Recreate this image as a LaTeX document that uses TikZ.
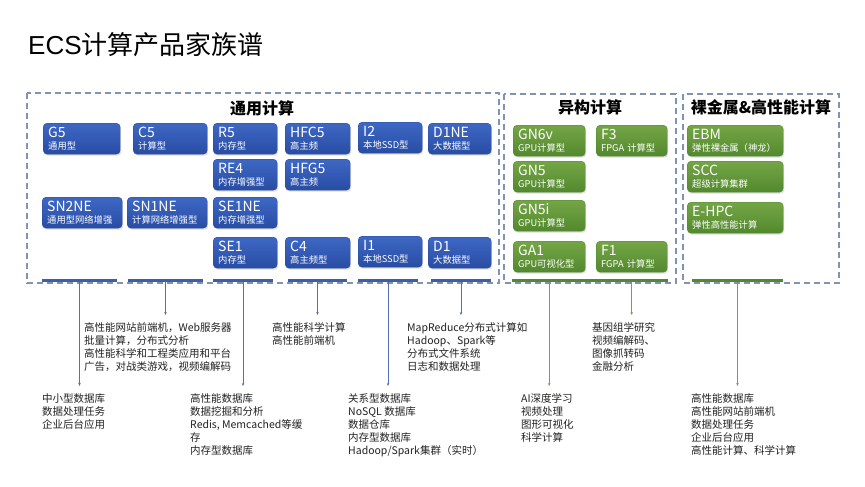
\documentclass[tikz,border=0pt]{standalone}
\usepackage{fontspec}
\setmainfont{Noto Sans CJK SC}
\newfontfamily\latinfont{Liberation Sans}
\usetikzlibrary{shadows,arrows.meta}

\definecolor{ecsblue}{RGB}{62,104,196}
\definecolor{ecsbluedark}{RGB}{40,76,164}
\definecolor{ecsgreen}{RGB}{116,166,70}
\definecolor{ecsgreendark}{RGB}{82,136,46}
\definecolor{framegray}{RGB}{128,148,178}
\definecolor{usegray}{RGB}{34,34,34}

\begin{document}
\begin{tikzpicture}[x=1pt,y=-1pt,
    famframe/.style={draw=framegray,line width=1.1pt,dash pattern=on 6pt off 4pt},
    famtitle/.style={font=\fontsize{16}{16}\selectfont\bfseries},
    ecsbox/.style={rounded corners=4pt,minimum height=31pt,inner xsep=5pt,inner ysep=0pt,anchor=north west,
        text=white,align=left,font=\fontsize{9.3}{11}\selectfont,
        drop shadow={opacity=0.25,shadow xshift=1pt,shadow yshift=-1.5pt}},
    bluebox/.style={ecsbox,top color=ecsblue,bottom color=ecsbluedark,draw=ecsbluedark},
    greenbox/.style={ecsbox,top color=ecsgreen,bottom color=ecsgreendark,draw=ecsgreendark},
    bluebar/.style={fill=ecsbluedark!90!white,minimum height=3pt,inner sep=0pt},
    greenbar/.style={fill=ecsgreendark,minimum height=3pt,inner sep=0pt},
    usetext/.style={anchor=north west,inner sep=0pt,align=left,font=\fontsize{10.5}{13.2}\selectfont,text=usegray},
    bluelink/.style={draw=ecsbluedark!80,line width=0.7pt,-{Stealth[length=3pt,width=2.5pt]},shorten >=7pt},
    greenlink/.style={draw=ecsgreendark!80,line width=0.7pt,-{Stealth[length=3pt,width=2.5pt]},shorten >=7pt}]
    \fill[white] (0,0) rectangle (865,487);
    \useasboundingbox (0,0) rectangle (865,487);
    \node[anchor=west,inner sep=0pt,font=\fontsize{26}{26}\selectfont] (title) at (28,45) {{\latinfont ECS}计算产品家族谱};
    % family frames
    \draw[famframe] (27,93) rectangle (499,283);
    \draw[famframe] (504,94) rectangle (676,283);
    \draw[famframe] (683,94) rectangle (839,283);
    \node[famtitle] (general) at (262,108) {通用计算};
    \node[famtitle] (hetero) at (590,107) {异构计算};
    \node[famtitle] (baremetal) at (761,107) {裸金属\&高性能计算};
    % instance families
    \foreach \n/\t/\s/\x/\y/\w in {g5/G5/通用型/43/123/77, c5/C5/计算型/133/123/74,
        r5/R5/内存型/213/123/64, hfc5/HFC5/高主频/285/123/65, i2/I2/本地SSD型/358/122/64,
        d1ne/D1NE/大数据型/428/123/63, re4/RE4/内存增强型/213/159/64, hfg5/HFG5/高主频/285/159/65,
        sn2ne/SN2NE/通用型网络增强/42/197/80, sn1ne/SN1NE/计算网络增强型/127/197/80,
        se1ne/SE1NE/内存增强型/213/197/64, se1/SE1/内存型/213/237/64, c4/C4/高主频型/285/237/65,
        i1/I1/本地SSD型/358/236/64, d1/D1/大数据型/428/237/63}
    {
        \pgfmathsetmacro\tw{\w-10}
        \node[bluebox,minimum width=\w pt,text width=\tw pt] (\n) at (\x,\y) {{\fontsize{14}{14}\selectfont\t}\\[1.5pt]\s};
    }
    \foreach \n/\t/\s/\x/\y/\w in {gn6v/GN6v/GPU计算型/513/125/72, f3/F3/FPGA 计算型/596/125/71,
        gn5/GN5/GPU计算型/513/161/72, gn5i/GN5i/GPU计算型/513/200/72, ga1/GA1/GPU可视化型/513/241/72,
        f1/F1/FGPA 计算型/596/241/71, ebm/EBM/弹性裸金属（神龙）/687/125/96,
        scc/SCC/超级计算集群/687/161/96, ehpc/E-HPC/弹性高性能计算/687/202/96}
    {
        \pgfmathsetmacro\tw{\w-10}
        \node[greenbox,minimum width=\w pt,text width=\tw pt] (\n) at (\x,\y) {{\fontsize{14}{14}\selectfont\t}\\[1.5pt]\s};
    }
    % bars
    \node[bluebar,minimum width=75pt] (bar1) at (79.5,280) {};
    \node[bluebar,minimum width=75pt] (bar2) at (165.5,280) {};
    \node[bluebar,minimum width=60pt] (bar3) at (243,280) {};
    \node[bluebar,minimum width=59pt] (bar4) at (317.5,280) {};
    \node[bluebar,minimum width=60pt] (bar5) at (388,280) {};
    \node[bluebar,minimum width=60pt] (bar6) at (461,280) {};
    \node[greenbar,minimum width=156pt] (gbar) at (590,280) {};
    \node[greenbar,minimum width=91pt] (ebar) at (737.5,280) {};
    % usage texts
    \node[usetext] (t1) at (42,393) {中小型数据库\\数据处理任务\\企业后台应用};
    \node[usetext] (t2) at (84,322) {高性能网站前端机，Web服务器\\批量计算，分布式分析\\高性能科学和工程类应用和平台\\广告，对战类游戏，视频编解码};
    \node[usetext] (t3) at (190,393) {高性能数据库\\数据挖掘和分析\\Redis, Memcached等缓\\存\\内存型数据库};
    \node[usetext] (t4) at (272,322) {高性能科学计算\\高性能前端机};
    \node[usetext] (t5) at (348,393) {关系型数据库\\NoSQL 数据库\\数据仓库\\内存型数据库\\Hadoop/Spark集群（实时）};
    \node[usetext] (t6) at (407,322) {MapReduce分布式计算如\\Hadoop、Spark等\\分布式文件系统\\日志和数据处理};
    \node[usetext] (t7) at (521,393) {AI深度学习\\视频处理\\图形可视化\\科学计算};
    \node[usetext] (t8) at (592,322) {基因组学研究\\视频编解码、\\图像抓转码\\金融分析};
    \node[usetext] (t9) at (691,393) {高性能数据库\\高性能网站前端机\\数据处理任务\\企业后台应用\\高性能计算、科学计算};
    % links
    \foreach \b/\t in {bar1/t1,bar2/t2,bar3/t3,bar4/t4,bar5/t5,bar6/t6}
        \draw[bluelink] (\b.south) -- (\b.south |- \t.north);
    \draw[greenlink] (ga1 |- gbar.south) -- (ga1 |- t7.north);
    \draw[greenlink] (f1 |- gbar.south) -- (f1 |- t8.north);
    \draw[greenlink] (ebar.south) -- (ebar.south |- t9.north);
\end{tikzpicture}
\end{document}
